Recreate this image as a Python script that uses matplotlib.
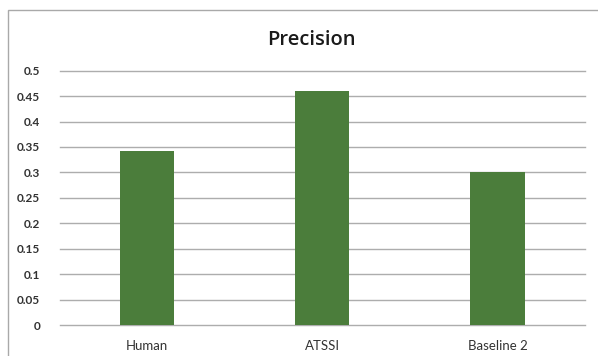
import matplotlib
matplotlib.use("Agg")
import matplotlib.pyplot as plt
from matplotlib.patches import Rectangle

categories = ["Human", "ATSSI", "Baseline 2"]
precision = [0.343, 0.46, 0.30]
y_ticks = [0, 0.05, 0.1, 0.15, 0.2, 0.25, 0.3, 0.35, 0.4, 0.45, 0.5]
y_tick_labels = ["0", "0.05", "0.1", "0.15", "0.2", "0.25", "0.3", "0.35", "0.4", "0.45", "0.5"]

W, H, DPI = 598, 356, 100
fig = plt.figure(figsize=(W / DPI, H / DPI), dpi=DPI)
fig.patch.set_facecolor("white")

# chart frame (left and top edges visible)
fig.patches.append(Rectangle((8 / W, -0.1), 1.2, 1 - 10 / H + 0.1,
                             transform=fig.transFigure, fill=False,
                             edgecolor="#a9a9a9", linewidth=1.0))

left, right = 59.5 / W, 585 / W
bottom, top = 1 - 325 / H, 1 - 70.7 / H
ax = fig.add_axes([left, bottom, right - left, top - bottom])

x = range(len(categories))
ax.bar(x, precision, width=0.31, color="#4b7d3b", zorder=3)

ax.set_xlim(-0.5, len(categories) - 0.5)
ax.set_ylim(0, 0.5)
ax.set_yticks(y_ticks)
ax.set_yticklabels(y_tick_labels, fontsize=8.5, fontweight="bold",
                   color="#333333", family="Lato")
ax.set_xticks(list(x))
ax.set_xticklabels(categories, fontsize=9.5, color="#333333", family="Lato")
ax.tick_params(axis="y", length=0, pad=14)
ax.tick_params(axis="x", length=0, pad=11)

for t in y_ticks:
    ax.axhline(t, color="#adadad", linewidth=1.0, zorder=1, clip_on=False)

for s in ax.spines.values():
    s.set_visible(False)

fig.text(0.521, 1 - 40 / H, "Precision", ha="center", va="center",
         fontsize=14.5, fontweight="semibold", family="Open Sans",
         color="#1a1a1a")

fig.savefig("out.png", dpi=DPI)
